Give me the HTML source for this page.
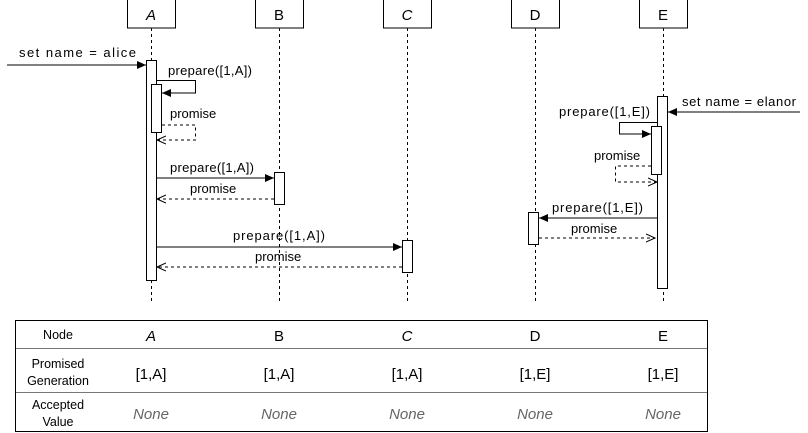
<!DOCTYPE html>
<html><head><meta charset="utf-8"><style>
html,body{margin:0;padding:0;background:#fff;}
svg{display:block;}
text{font-family:"Liberation Sans",sans-serif;fill:#000;}
</style></head><body>
<svg width="808" height="433" viewBox="0 0 808 433" xmlns="http://www.w3.org/2000/svg">
<defs>
<marker id="f" markerWidth="10" markerHeight="10" refX="9" refY="5" orient="auto" markerUnits="userSpaceOnUse"><path d="M0,1 L9,5 L0,9 Z" fill="#000"/></marker>
<marker id="o" markerWidth="10" markerHeight="10" refX="9" refY="5" orient="auto" markerUnits="userSpaceOnUse"><path d="M0,1 L9,5 L0,9" fill="none" stroke="#000"/></marker>
</defs>
<g fill="#fff" stroke="#000" stroke-width="1">
<rect x="127.5" y="-1" width="48" height="29"/>
<rect x="255.5" y="-1" width="48" height="29"/>
<rect x="383.5" y="-1" width="48" height="29"/>
<rect x="511.5" y="-1" width="48" height="29"/>
<rect x="639.5" y="-1" width="48" height="29"/>
</g>
<g font-size="15" text-anchor="middle">
<text x="151" y="20" font-style="italic">A</text>
<text x="279" y="20">B</text>
<text x="407" y="20" font-style="italic">C</text>
<text x="535" y="20">D</text>
<text x="663" y="20">E</text>
</g>
<g stroke="#000" stroke-dasharray="3,3" stroke-width="1">
<line x1="151.5" y1="28" x2="151.5" y2="302"/>
<line x1="279.5" y1="28" x2="279.5" y2="302"/>
<line x1="407.5" y1="28" x2="407.5" y2="302"/>
<line x1="535.5" y1="28" x2="535.5" y2="302"/>
<line x1="663.5" y1="28" x2="663.5" y2="302"/>
</g>
<g fill="#fff" stroke="#000">
<rect x="146.5" y="60.5" width="10" height="220"/>
<rect x="151.5" y="84.5" width="10" height="48"/>
<rect x="274.5" y="172.5" width="10" height="32"/>
<rect x="402.5" y="240.5" width="10" height="32"/>
<rect x="657.5" y="96.5" width="10" height="192"/>
<rect x="651.5" y="126.5" width="10" height="48"/>
<rect x="528.5" y="212.5" width="10" height="32"/>
</g>
<g stroke="#000" fill="none" stroke-width="1">
<path d="M7,65 L146,65" marker-end="url(#f)"/>
<path d="M157,80.5 H195.5 V93 H162" marker-end="url(#f)"/>
<path d="M162,125 H195.5 V140 H157" stroke-dasharray="3,3" marker-end="url(#o)"/>
<path d="M157,178 H274" marker-end="url(#f)"/>
<path d="M274,199 H157" stroke-dasharray="3,3" marker-end="url(#o)"/>
<path d="M157,247 H402" marker-end="url(#f)"/>
<path d="M402,267 H157" stroke-dasharray="3,3" marker-end="url(#o)"/>
<path d="M800,112 H668" marker-end="url(#f)"/>
<path d="M657,122.5 H619.5 V134 H651" marker-end="url(#f)"/>
<path d="M651,166 H615.5 V182 H657" stroke-dasharray="3,3" marker-end="url(#o)"/>
<path d="M657,218 H539" marker-end="url(#f)"/>
<path d="M539,238 H655" stroke-dasharray="3,3" marker-end="url(#o)"/>
</g>
<g font-size="13">
<text x="19" y="57" textLength="117">set name = alice</text>
<text x="168" y="75" textLength="84">prepare([1,A])</text>
<text x="170" y="118">promise</text>
<text x="170" y="172" textLength="84">prepare([1,A])</text>
<text x="190" y="193">promise</text>
<text x="233" y="240" textLength="92">prepare([1,A])</text>
<text x="255" y="261">promise</text>
<text x="682" y="106" textLength="114">set name = elanor</text>
<text x="559" y="116" textLength="91">prepare([1,E])</text>
<text x="594" y="160">promise</text>
<text x="552" y="212" textLength="91">prepare([1,E])</text>
<text x="571" y="233">promise</text>
</g>
<rect x="15.5" y="320.5" width="692" height="111" fill="none" stroke="#000"/>
<line x1="16" y1="348.5" x2="707" y2="348.5" stroke="#777"/>
<line x1="16" y1="392.5" x2="707" y2="392.5" stroke="#777"/>
<g font-size="12.5" text-anchor="middle" fill="#222">
<text x="58" y="339">Node</text>
<text x="58" y="368">Promised</text>
<text x="58" y="385">Generation</text>
<text x="58" y="409">Accepted</text>
<text x="58" y="426">Value</text>
</g>
<g font-size="15" text-anchor="middle">
<text x="151" y="341" font-style="italic">A</text>
<text x="279" y="341">B</text>
<text x="407" y="341" font-style="italic">C</text>
<text x="535" y="341">D</text>
<text x="663" y="341">E</text>
<text x="151" y="379">[1,A]</text>
<text x="279" y="379">[1,A]</text>
<text x="407" y="379">[1,A]</text>
<text x="535" y="379">[1,E]</text>
<text x="663" y="379">[1,E]</text>
</g>
<g font-size="15" text-anchor="middle" font-style="italic">
<text x="151" y="419" style="fill:#666">None</text>
<text x="279" y="419" style="fill:#666">None</text>
<text x="407" y="419" style="fill:#666">None</text>
<text x="535" y="419" style="fill:#666">None</text>
<text x="663" y="419" style="fill:#666">None</text>
</g>
</svg>
</body></html>
